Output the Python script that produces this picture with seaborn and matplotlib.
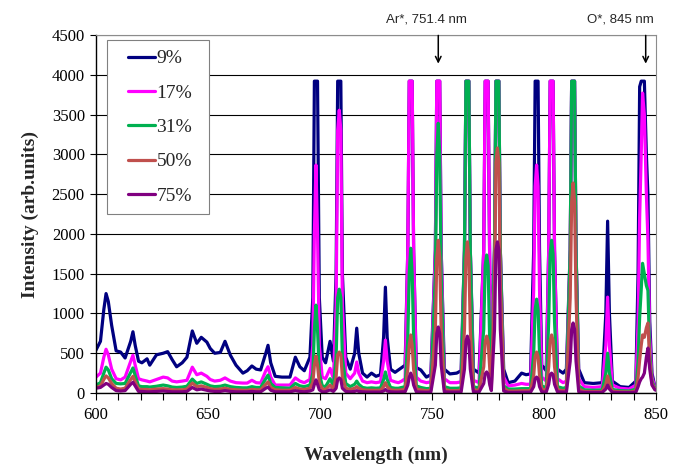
import pandas as pd
import seaborn as sns
import matplotlib.pyplot as plt
from matplotlib.ticker import MultipleLocator
from matplotlib.legend_handler import HandlerLine2D

### Data ###

wavelength = [
    600, 602, 603.5, 604.5, 605.5, 607, 609, 611, 613, 615.5, 616.5, 617.5, 619, 620.5,
    622.8, 624, 627, 630, 632, 634, 636, 638.5, 640.6, 643, 645, 647, 649.5, 651, 653,
    655.5, 657.6, 660, 662.5, 665.6, 667.5, 669.6, 671.5, 673.5, 675.8, 676.8, 678, 680,
    683, 686.6, 689, 691, 693, 695.5,
    696.8, 697.5, 698.2, 698.9, 699.7, 701, 702.5, 704.5, 706, 707.2, 707.9, 708.6, 709.3,
    710, 711.5, 713.5, 715.5, 716.4, 717.3, 719, 721, 723, 725, 727, 728.4, 729.2, 730,
    731.5, 733.5, 735, 736.5, 738, 739.2, 739.85, 740.5, 741.15, 741.8, 743, 745, 747.5, 749.5,
    751.5, 752.15, 752.8, 753.45, 754.1, 755.5, 758, 761, 763, 764.5, 765.15, 765.8, 766.45,
    767.1, 768.5, 771, 773.1, 773.75, 774.4, 775.05, 775.8, 776.5, 777.9, 778.55, 779.2, 779.85,
    780.5, 782, 784, 787, 790, 792, 794, 795.4, 796.05, 796.7, 797.35, 798.0, 799, 801,
    802.1, 802.75, 803.4, 804.05, 804.7, 806, 808.5, 810, 811.7, 812.35, 813, 813.65, 814.3,
    815.5, 818, 822, 826, 827.6, 828.4, 829.2, 830.5, 834, 838, 841, 842, 842.7, 843.4,
    844, 844.8, 845.7, 846.4, 847.2, 848.2, 849.5, 850,
]

int_9 = [
    540, 650, 1050, 1250, 1150, 850, 530, 515, 440, 650, 770, 600, 400, 380,
    430, 350, 480, 500, 520, 420, 330, 380, 450, 780, 625, 700, 640, 560, 500,
    510, 650, 475, 350, 250, 280, 340, 300, 290, 500, 600, 380, 210,
    200, 200, 450, 330, 280, 450,
    1200, 3920, 3920, 3920, 1200, 450, 380, 650, 400, 1500, 3920, 3920, 3920,
    1500, 450, 300, 500, 815, 500, 250, 200, 250, 210, 230, 700, 1330, 700,
    300, 260, 290, 320, 350, 1800, 3920, 3920, 3920, 1800, 320, 290, 200, 230,
    1800, 3920, 3920, 3920, 1800, 300, 240, 250, 280, 1800, 3920, 3920, 3920,
    1800, 300, 250, 1800, 3920, 3920, 3920, 1500, 350, 1800, 3920, 3920, 3920,
    1800, 300, 130, 150, 250, 230, 240, 1800, 3920, 3920, 3920, 1800, 350, 280,
    1800, 3920, 3920, 3920, 1800, 300, 250, 300, 1800, 3920, 3920, 3920, 1800,
    300, 130, 120, 130, 1000, 2160, 1000, 150, 80, 70, 150, 1500, 3850, 3920,
    3920, 3920, 3000, 2490, 900, 250, 80, 60,
]

int_17 = [
    200, 250, 450, 550, 480, 300, 180, 165, 200, 400, 475, 350, 180, 165,
    150, 140, 170, 200, 190, 150, 140, 150, 160, 325, 230, 250, 210, 170, 150,
    160, 190, 150, 130, 125, 125, 160, 130, 125, 280, 330, 200, 100,
    100, 100, 190, 150, 130, 170,
    600, 2000, 2865, 2000, 600, 200, 180, 310, 180, 1100, 3300, 3555, 3300,
    1100, 250, 180, 250, 390, 250, 150, 130, 140, 130, 140, 400, 665, 400,
    160, 140, 130, 150, 180, 1800, 3920, 3920, 3920, 1800, 200, 150, 130, 140,
    1800, 3920, 3920, 3920, 1800, 180, 130, 130, 140, 1800, 3920, 3920, 3920,
    1800, 160, 130, 1800, 3920, 3920, 3920, 1500, 250, 1800, 3920, 3920, 3920,
    1800, 200, 90, 100, 120, 110, 110, 1300, 2600, 2865, 2600, 1300, 200, 150,
    1800, 3920, 3920, 3920, 1800, 180, 130, 150, 1800, 3920, 3920, 3920, 1800,
    180, 80, 70, 80, 600, 1205, 600, 100, 60, 50, 100, 900, 2210, 3000,
    3770, 3500, 2500, 1920, 700, 200, 70, 50,
]

int_31 = [
    100, 130, 250, 325, 290, 180, 120, 115, 120, 260, 315, 220, 90, 80,
    80, 75, 85, 100, 90, 75, 70, 75, 85, 175, 120, 140, 110, 90, 80,
    85, 100, 80, 70, 65, 65, 80, 70, 70, 180, 225, 120, 70,
    65, 60, 120, 90, 80, 100,
    250, 800, 1105, 800, 250, 90, 80, 180, 90, 450, 1200, 1305, 1200,
    450, 120, 80, 110, 150, 110, 70, 60, 65, 60, 65, 170, 265, 170,
    70, 60, 60, 70, 80, 700, 1500, 1820, 1500, 700, 90, 70, 55, 60,
    1500, 3000, 3390, 3000, 1500, 80, 60, 60, 65, 1800, 3920, 3920, 3920,
    1800, 80, 60, 800, 1600, 1735, 1600, 600, 120, 1800, 3920, 3920, 3920,
    1800, 90, 50, 50, 55, 55, 55, 500, 1050, 1180, 1050, 500, 90, 65,
    900, 1750, 1920, 1750, 900, 80, 60, 70, 1800, 3920, 3920, 3920, 1800,
    90, 40, 35, 40, 250, 500, 250, 45, 30, 25, 50, 400, 955, 1300,
    1630, 1500, 1350, 1290, 500, 150, 60, 45,
]

int_50 = [
    70, 90, 170, 215, 190, 120, 60, 50, 60, 170, 210, 140, 50, 45,
    45, 40, 50, 55, 50, 40, 40, 40, 50, 125, 80, 90, 70, 55, 45,
    50, 60, 45, 40, 35, 35, 45, 40, 40, 110, 140, 70, 40,
    35, 35, 70, 50, 45, 60,
    130, 350, 465, 350, 130, 50, 45, 100, 50, 200, 480, 515, 480,
    200, 60, 45, 60, 80, 60, 40, 35, 35, 35, 35, 80, 130, 80,
    40, 35, 35, 40, 45, 300, 600, 730, 600, 300, 50, 40, 30, 35,
    800, 1700, 1920, 1700, 800, 45, 30, 30, 35, 800, 1700, 1900, 1700,
    800, 40, 35, 330, 650, 715, 650, 300, 80, 1400, 2900, 3080, 2900,
    1400, 60, 25, 25, 30, 30, 30, 220, 460, 515, 460, 220, 50, 35,
    330, 660, 730, 660, 330, 40, 30, 35, 1200, 2400, 2640, 2400, 1200,
    50, 20, 18, 20, 110, 215, 110, 25, 15, 12, 25, 200, 415, 600,
    730, 700, 820, 880, 400, 120, 50, 40,
]

int_75 = [
    60, 70, 100, 120, 110, 70, 30, 25, 30, 110, 135, 90, 20, 20,
    15, 15, 20, 25, 20, 15, 15, 15, 20, 70, 40, 50, 35, 25, 20,
    20, 30, 20, 15, 15, 15, 20, 15, 15, 60, 75, 35, 15,
    15, 15, 30, 20, 15, 25,
    40, 110, 165, 110, 40, 15, 15, 40, 20, 60, 170, 190, 170,
    60, 20, 15, 20, 30, 20, 15, 12, 12, 12, 12, 25, 45, 25,
    15, 12, 12, 15, 15, 100, 200, 250, 200, 100, 15, 12, 10, 12,
    350, 750, 830, 750, 350, 15, 12, 12, 12, 300, 650, 715, 650,
    300, 15, 12, 120, 240, 265, 240, 100, 30, 800, 1800, 1900, 1800,
    800, 25, 8, 8, 10, 10, 10, 80, 180, 200, 180, 80, 15, 12,
    110, 230, 250, 230, 110, 15, 12, 12, 400, 800, 880, 800, 400,
    15, 8, 8, 8, 50, 100, 50, 10, 6, 5, 10, 80, 140, 180,
    200, 250, 450, 565, 300, 100, 40, 35,
]

series_labels = ["9%", "17%", "31%", "50%", "75%"]
series_colors = ["#000080", "#FF00FF", "#00B050", "#C0504D", "#800080"]

### Build long-form table ###

frames = []
for label, values in zip(series_labels, [int_9, int_17, int_31, int_50, int_75]):
    frames.append(pd.DataFrame({"wavelength": wavelength, "intensity": values, "series": label}))
df = pd.concat(frames, ignore_index=True)

### Plot ###

sns.set_style("white")
plt.rcParams["font.family"] = ["Liberation Serif", "DejaVu Serif"]

fig = plt.figure(figsize=(6.74, 4.65), dpi=100)
ax = fig.add_axes([0.1424, 0.1548, 0.8309, 0.7699])

sns.lineplot(data=df, x="wavelength", y="intensity", hue="series",
             hue_order=series_labels, palette=series_colors,
             estimator=None, sort=False, linewidth=2.3, ax=ax)

ax.set_xlim(600, 850)
ax.set_ylim(0, 4500)
ax.xaxis.set_major_locator(MultipleLocator(50))
ax.xaxis.set_minor_locator(MultipleLocator(10))
ax.yaxis.set_major_locator(MultipleLocator(500))
ax.yaxis.grid(True, color="black", linewidth=0.8)
ax.set_axisbelow(True)

ax.tick_params(axis="both", which="both", direction="out", labelsize=12, colors="black")
ax.tick_params(axis="x", which="both", length=5, width=0.8, bottom=True, pad=5)
ax.tick_params(axis="y", which="major", length=4, width=0.8, left=True, pad=4)

for side in ["left", "bottom"]:
    ax.spines[side].set_color("black")
    ax.spines[side].set_linewidth(1.0)
for side in ["top", "right"]:
    ax.spines[side].set_color("#8c8c8c")
    ax.spines[side].set_linewidth(0.8)

ax.set_xlabel("Wavelength (nm)", fontsize=14, fontweight="bold", labelpad=17)
ax.set_ylabel("Intensity (arb.units)", fontsize=14, fontweight="bold", labelpad=9)

# legend: line handles pushed right inside the box, like the original
handles, labels = ax.get_legend_handles_labels()
leg = ax.legend(handles, labels, loc="upper left", mode="expand",
                bbox_to_anchor=(0.0196, 0.511, 0.1825, 0.475), borderaxespad=0,
                fontsize=14, frameon=True, fancybox=False, framealpha=1,
                edgecolor="#808080", handlelength=1.95, handletextpad=0.1,
                labelspacing=0.86, borderpad=0.5,
                handler_map={h: HandlerLine2D(xpad=0.57) for h in handles})
leg.get_frame().set_linewidth(0.8)

# line annotations above the plot area
ann_font = dict(fontsize=9.5, family=["Liberation Sans", "DejaVu Sans"])
ax.text(747.3, 4690, "Ar*, 751.4 nm", ha="center", va="center", clip_on=False, **ann_font)
ax.text(834.0, 4690, "O*, 845 nm", ha="center", va="center", clip_on=False, **ann_font)
arrow = dict(arrowstyle="->", color="black", lw=1.1, shrinkA=0, shrinkB=0)
ax.annotate("", xy=(752.8, 4140), xytext=(752.8, 4495), arrowprops=arrow, annotation_clip=False)
ax.annotate("", xy=(845.4, 4140), xytext=(845.4, 4495), arrowprops=arrow, annotation_clip=False)

fig.savefig("out.png", dpi=100)
